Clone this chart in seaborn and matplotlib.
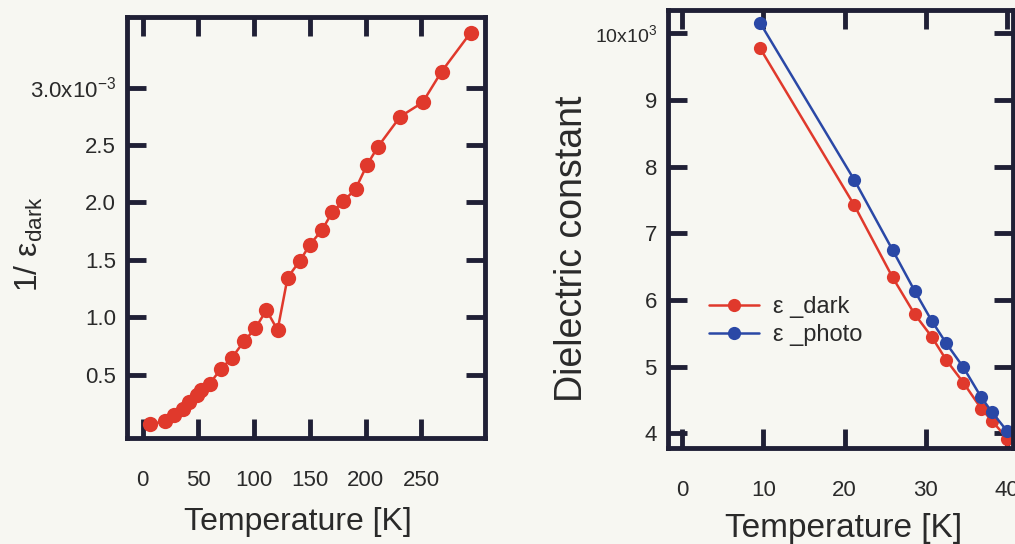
import numpy as np
import pandas as pd
import matplotlib
matplotlib.use("Agg")
import matplotlib.pyplot as plt
import seaborn as sns

# Inverse dielectric constant (dark) vs temperature
temp_inv = [7, 20, 28, 36, 42, 49, 52, 60, 70, 80, 91, 101, 111, 121, 130,
            141, 150, 161, 170, 180, 191, 201, 211, 231, 251, 268, 294]
inv_eps_dark = [0.073, 0.094, 0.146, 0.204, 0.262, 0.320, 0.364, 0.422, 0.548,
                0.647, 0.793, 0.903, 1.064, 0.889, 1.346, 1.492, 1.632, 1.763,
                1.914, 2.010, 2.118, 2.323, 2.485, 2.747, 2.870, 3.138, 3.476]  # x1e-3

# Dielectric constant at low temperature (x1e3)
temp_eps = [9.6, 21.2, 25.9, 28.6, 30.7, 32.5, 34.6, 36.8, 38.1, 40.0]
eps_dark = [9.78, 7.42, 6.34, 5.79, 5.45, 5.10, 4.76, 4.37, 4.19, 3.92]
eps_photo = [10.16, 7.80, 6.75, 6.14, 5.69, 5.35, 4.99, 4.54, 4.32, 4.03]

left_xticks = [0, 50, 100, 150, 200, 250]
left_yticks = [0.5, 1.0, 1.5, 2.0, 2.5, 3.0]
left_ylabels = ["0.5", "1.0", "1.5", "2.0", "2.5", "3.0x10$^{-3}$"]
right_xticks = [0, 10, 20, 30, 40]
right_yticks = [4, 5, 6, 7, 8, 9, 10]
right_ylabels = ["4", "5", "6", "7", "8", "9", "10x10$^{3}$"]

RED = "#e0392c"
BLUE = "#2a48a6"
FRAME = "#202036"
TEXT = "#2a2a2a"
BG = "#f7f7f2"

sns.set_theme(style="ticks")
plt.rcParams["font.family"] = ["Liberation Sans", "DejaVu Sans"]
plt.rcParams["mathtext.fontset"] = "custom"
plt.rcParams["mathtext.rm"] = "Liberation Sans"
plt.rcParams["mathtext.it"] = "Liberation Sans:italic"
plt.rcParams["text.color"] = TEXT
plt.rcParams["axes.labelcolor"] = TEXT
plt.rcParams["xtick.color"] = FRAME
plt.rcParams["ytick.color"] = FRAME
plt.rcParams["xtick.labelcolor"] = TEXT
plt.rcParams["ytick.labelcolor"] = TEXT

fig = plt.figure(figsize=(10.15, 5.44), dpi=100, facecolor=BG)
W, H = 1015, 544
ax1 = fig.add_axes([127 / W, 1 - 438 / H, 358 / W, (438 - 17) / H])
ax2 = fig.add_axes([668 / W, 1 - 448 / H, 345 / W, (448 - 10) / H])

df_inv = pd.DataFrame({"T": temp_inv, "inv": np.array(inv_eps_dark) * 1e-3})
sns.lineplot(data=df_inv, x="T", y="inv", ax=ax1, color=RED, marker="o",
             markersize=11, markeredgewidth=0, linewidth=1.8,
             sort=False, estimator=None)

df_eps = pd.DataFrame({
    "T": temp_eps * 2,
    "eps": np.array(eps_dark + eps_photo) * 1e3,
    "kind": ["ε _dark"] * len(temp_eps) + ["ε _photo"] * len(temp_eps),
})
sns.lineplot(data=df_eps, x="T", y="eps", hue="kind", ax=ax2,
             palette={"ε _dark": RED, "ε _photo": BLUE}, marker="o",
             markersize=9.5, markeredgewidth=0, linewidth=1.8,
             sort=False, estimator=None, legend=False)

for ax in (ax1, ax2):
    ax.set_facecolor(BG)
    for sp in ax.spines.values():
        sp.set_linewidth(3.5)
        sp.set_color(FRAME)
        sp.set_visible(True)
    ax.tick_params(direction="in", length=14, width=3.5, top=True, right=True,
                   labelsize=16)

ax1.set_xlim(-14, 307)
ax1.set_ylim(-0.05e-3, 3.614e-3)
ax1.set_xticks(left_xticks)
ax1.set_yticks(np.array(left_yticks) * 1e-3, left_ylabels)
ax1.tick_params(axis="x", pad=23)
ax1.tick_params(axis="y", pad=8)
ax1.set_xlabel("Temperature [K]", fontsize=23)
ax1.xaxis.set_label_coords(0.477, -0.165)
ax1.set_ylabel("1/ ε$_{\\rm dark}$", fontsize=23)
ax1.yaxis.set_label_coords(-0.228, 0.46)

ax2.set_xlim(-1.7, 40.7)
ax2.set_ylim(3.78e3, 10.35e3)
ax2.set_xticks(right_xticks)
ax2.set_yticks(np.array(right_yticks) * 1e3, right_ylabels)
ax2.tick_params(axis="x", pad=23)
ax2.tick_params(axis="y", pad=8)
ax2.set_xlabel("Temperature [K]", fontsize=24)
ax2.xaxis.set_label_coords(0.51, -0.148)
ax2.set_ylabel("Dielectric constant", fontsize=27)
ax2.yaxis.set_label_coords(-0.226, 0.455)
ax2.get_yticklabels()[-1].set_fontsize(14)

handles = ax2.get_lines()
ax2.legend(handles=handles[:2], labels=["ε _dark", "ε _photo"],
           loc="center left", bbox_to_anchor=(0.12, 0.29), frameon=False,
           fontsize=17, handlelength=2.1, handletextpad=0.6,
           labelspacing=0.25, borderpad=0, borderaxespad=0)

fig.savefig("out.png", dpi=100, facecolor=BG)
